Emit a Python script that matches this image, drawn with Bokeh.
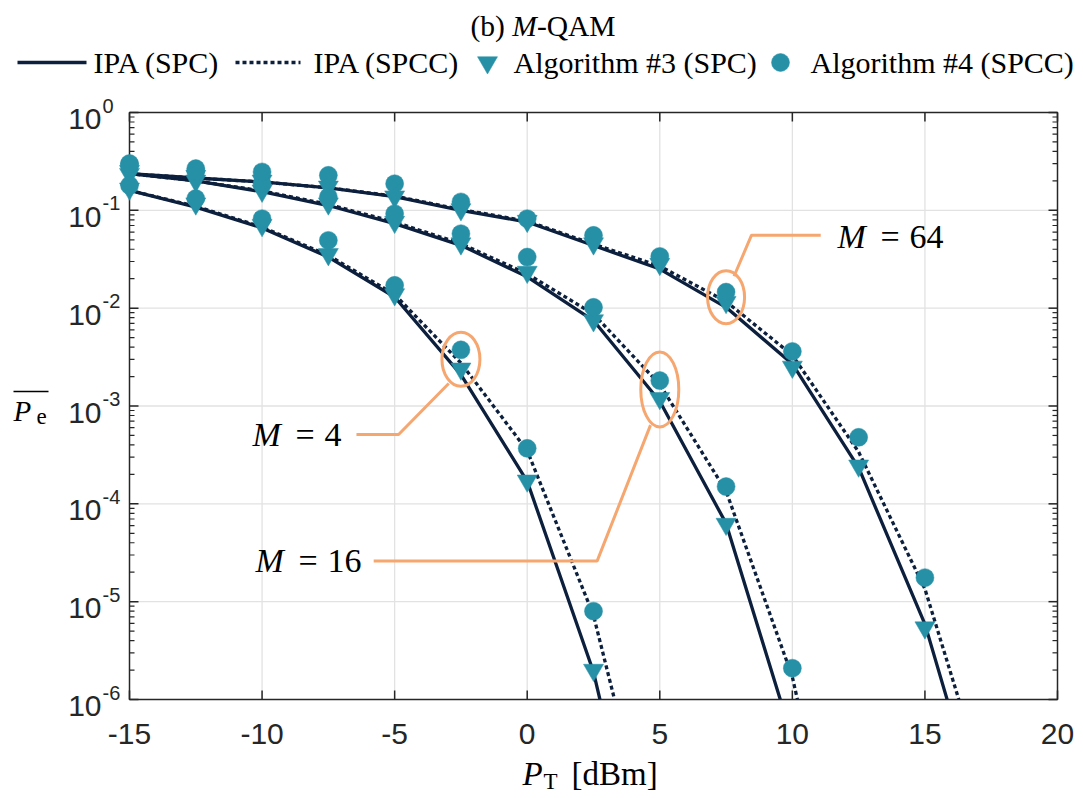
import math
from bokeh.plotting import figure
from bokeh.models import Range1d
from bokeh.core.properties import value
from bokeh.embed import file_html
from bokeh.resources import INLINE

# ---------------- data ----------------
PT_DBM = [-15, -12.5, -10, -7.5, -5, -2.5, 0, 2.5, 5, 7.5, 10, 12.5, 15, 17.5]

# M = 4
IPA_SPC_M4 = [1.60e-1, 1.08e-1, 6.61e-2, 3.33e-2, 1.30e-2, 2.09e-3, 1.70e-4, 1.91e-6, 2.51e-9]
IPA_SPCC_M4 = [1.60e-1, 1.10e-1, 6.76e-2, 3.47e-2, 1.38e-2, 2.75e-3, 3.50e-4, 7.24e-6, 1.41e-8]
ALG3_SPC_M4 = [1.66e-1, 1.17e-1, 7.03e-2, 3.55e-2, 1.38e-2, 2.40e-3, 1.72e-4, 2.00e-6]
ALG4_SPCC_M4 = [1.80e-1, 1.32e-1, 8.22e-2, 4.93e-2, 1.71e-2, 3.75e-3, 3.69e-4, 8.00e-6]

# M = 16
IPA_SPC_M16 = [2.37e-1, 2.00e-1, 1.55e-1, 1.12e-1, 7.31e-2, 4.39e-2, 2.09e-2, 7.48e-3, 1.12e-3, 6.31e-5, 3.98e-7]
IPA_SPCC_M16 = [2.37e-1, 2.00e-1, 1.58e-1, 1.15e-1, 7.59e-2, 4.57e-2, 2.24e-2, 8.71e-3, 1.66e-3, 1.35e-4, 1.70e-6, 1.58e-9]
ALG3_SPC_M16 = [2.34e-1, 2.00e-1, 1.58e-1, 1.17e-1, 7.59e-2, 4.57e-2, 2.34e-2, 7.48e-3, 1.20e-3, 6.21e-5]
ALG4_SPCC_M16 = [2.95e-1, 2.51e-1, 1.87e-1, 1.37e-1, 9.25e-2, 5.77e-2, 3.33e-2, 1.02e-2, 1.82e-3, 1.50e-4, 2.09e-6]

# M = 64
IPA_SPC_M64 = [2.37e-1, 2.14e-1, 1.95e-1, 1.70e-1, 1.38e-1, 1.00e-1, 7.59e-2, 4.37e-2, 2.51e-2, 1.02e-2, 2.69e-3, 2.34e-4, 5.89e-6, 2.95e-8]
IPA_SPCC_M64 = [2.37e-1, 2.14e-1, 1.95e-1, 1.70e-1, 1.40e-1, 1.02e-1, 7.76e-2, 4.52e-2, 2.69e-2, 1.17e-2, 3.31e-3, 3.39e-4, 1.35e-5, 8.30e-8]
ALG3_SPC_M64 = [2.51e-1, 2.24e-1, 2.00e-1, 1.74e-1, 1.38e-1, 1.02e-1, 7.76e-2, 4.57e-2, 2.82e-2, 1.15e-2, 2.51e-3, 2.45e-4, 5.43e-6]
ALG4_SPCC_M64 = [3.01e-1, 2.67e-1, 2.47e-1, 2.28e-1, 1.87e-1, 1.22e-1, 8.22e-2, 5.55e-2, 3.38e-2, 1.46e-2, 3.61e-3, 4.79e-4, 1.76e-5]

X_MIN, X_MAX = -15, 20
Y_MIN, Y_MAX = 1e-6, 1e0
X_TICKS = [-15, -10, -5, 0, 5, 10, 15, 20]
X_TICK_LABELS = ["-15", "-10", "-5", "0", "5", "10", "15", "20"]
Y_TICKS = [1e0, 1e-1, 1e-2, 1e-3, 1e-4, 1e-5, 1e-6]
Y_TICK_BASE = "10"
Y_TICK_EXPONENTS = ["0", "-1", "-2", "-3", "-4", "-5", "-6"]
Y_MINOR_MANTISSAS = [2, 3, 4, 5, 6, 7, 8, 9]

LEGEND_LABELS = ["IPA (SPC)", "IPA (SPCC)", "Algorithm #3 (SPC)", "Algorithm #4 (SPCC)"]
TITLE_PARTS = ["(b)", "M", "-QAM"]
XLABEL_PARTS = ["P", "T", "[dBm]"]
YLABEL_PARTS = ["P", "e"]

# annotation leader lines (data coordinates)
LEAD_M4_X = [-2.96, -4.85, -6.44]
LEAD_M4_Y = [1.70e-3, 5.11e-4, 5.11e-4]
LEAD_M16_X = [4.65, 2.64, -5.79]
LEAD_M16_Y = [6.37e-4, 2.61e-5, 2.61e-5]
LEAD_M64_X = [7.80, 8.46, 11.07]
LEAD_M64_Y = [2.12e-2, 5.57e-2, 5.57e-2]

# ---------------- style ----------------
NAVY = "#0C1F3D"
TEAL = "#2690A7"
ORANGE = "#F6A66F"
AXIS = "#262626"
GRID = "#E2E2E2"
SERIF = "Liberation Serif"
SANS = "Liberation Sans"
LW = 3.3
DASH = "4 3"

# ---------------- page geometry (plot box in page pixels) ----------------
W, H = 1075, 796
BOX_L, BOX_R, BOX_T, BOX_B = 129, 1057, 112, 699
PX_PER_DB = (BOX_R - BOX_L) / (X_MAX - X_MIN)
PX_PER_DEC = (BOX_B - BOX_T) / (math.log10(Y_MAX) - math.log10(Y_MIN))
X_AT_0 = X_MIN - BOX_L / PX_PER_DB
LOG_AT_0 = math.log10(Y_MAX) + BOX_T / PX_PER_DEC


def X(px):
    return X_AT_0 + px / PX_PER_DB


def Y(py):
    return 10 ** (LOG_AT_0 - py / PX_PER_DEC)


p = figure(width=W, height=H, min_border=0, x_range=Range1d(X(0), X(W)),
           y_range=Range1d(Y(H), Y(0)), y_axis_type="log",
           output_backend="svg", toolbar_location=None)
p.axis.visible = False
p.grid.visible = False
p.outline_line_color = None
p.background_fill_color = "white"
p.border_fill_color = "white"

# grid
gx = [t for t in X_TICKS if X_MIN < t < X_MAX]
gy = [t for t in Y_TICKS if Y_MIN < t < Y_MAX]
p.segment(x0=gx, y0=[Y_MIN] * len(gx), x1=gx, y1=[Y_MAX] * len(gx),
          line_color=GRID, line_width=1.3)
p.segment(x0=[X_MIN] * len(gy), y0=gy, x1=[X_MAX] * len(gy), y1=gy,
          line_color=GRID, line_width=1.3)

# curves
for vals in (IPA_SPC_M4, IPA_SPC_M16, IPA_SPC_M64):
    p.line(PT_DBM[:len(vals)], vals, line_color=NAVY, line_width=LW)
for vals in (IPA_SPCC_M4, IPA_SPCC_M16, IPA_SPCC_M64):
    p.line(PT_DBM[:len(vals)], vals, line_color=NAVY, line_width=LW, line_dash=DASH)

# clip the curves at the plot box (white masks outside it)
p.quad(left=[X(0)], right=[X(W)], bottom=[Y(H)], top=[Y_MIN], fill_color="white",
       line_color=None)
p.quad(left=[X(0)], right=[X_MIN], bottom=[Y(H)], top=[Y(0)], fill_color="white",
       line_color=None)

# box and ticks
p.quad(left=[X_MIN], right=[X_MAX], bottom=[Y_MIN], top=[Y_MAX], fill_color=None,
       line_color=AXIS, line_width=1.5)
nx = len(X_TICKS)
p.ray(x=X_TICKS, y=[Y_MIN] * nx, length=9, length_units="screen", angle=math.pi / 2,
      line_color=AXIS, line_width=1.5)
p.ray(x=X_TICKS, y=[Y_MAX] * nx, length=9, length_units="screen", angle=-math.pi / 2,
      line_color=AXIS, line_width=1.5)
ny = len(Y_TICKS)
p.ray(x=[X_MIN] * ny, y=Y_TICKS, length=9, length_units="screen", angle=0,
      line_color=AXIS, line_width=1.5)
p.ray(x=[X_MAX] * ny, y=Y_TICKS, length=9, length_units="screen", angle=math.pi,
      line_color=AXIS, line_width=1.5)
minor = [m * t for t in Y_TICKS[1:] for m in Y_MINOR_MANTISSAS]
p.ray(x=[X_MIN] * len(minor), y=minor, length=5, length_units="screen", angle=0,
      line_color=AXIS, line_width=1.2)
p.ray(x=[X_MAX] * len(minor), y=minor, length=5, length_units="screen", angle=math.pi,
      line_color=AXIS, line_width=1.2)

# tick labels
p.text(x=X_TICKS, y=[Y_MIN] * nx, text=X_TICK_LABELS, y_offset=34.5, text_align="center",
       text_baseline="middle", text_font=value(SANS), text_font_size=value("30px"),
       text_color=AXIS)
p.text(x=[X_MIN] * ny, y=Y_TICKS, text=[Y_TICK_BASE] * ny, x_offset=-28, y_offset=6.5,
       text_align="right", text_baseline="middle", text_font=value(SANS),
       text_font_size=value("30px"), text_color=AXIS)
p.text(x=[X_MIN] * ny, y=Y_TICKS, text=Y_TICK_EXPONENTS, x_offset=-27, y_offset=-7,
       text_align="left", text_baseline="middle", text_font=value(SANS),
       text_font_size=value("20px"), text_color=AXIS)

# markers
for vals in (ALG3_SPC_M4, ALG3_SPC_M16, ALG3_SPC_M64):
    p.scatter(PT_DBM[:len(vals)], vals, marker="inverted_triangle", size=20,
              fill_color=TEAL, line_color=TEAL, line_width=0.5)
for vals in (ALG4_SPCC_M4, ALG4_SPCC_M16, ALG4_SPCC_M64):
    p.scatter(PT_DBM[:len(vals)], vals, marker="circle", size=18,
              fill_color=TEAL, line_color=TEAL, line_width=0.5)

# orange call-outs: ellipses around the marker pairs, leader lines
ell = [
    (5, ALG3_SPC_M4, ALG4_SPCC_M4, 38, 54),
    (8, ALG3_SPC_M16, ALG4_SPCC_M16, 38, 75),
    (9, ALG3_SPC_M64, ALG4_SPCC_M64, 37, 53),
]
for idx, a3, a4, w, h in ell:
    yc = math.sqrt(a3[idx] * a4[idx])
    p.ellipse(x=[PT_DBM[idx]], y=[yc], width=w, height=h, width_units="screen",
              height_units="screen", fill_color=None, line_color=ORANGE, line_width=3)
for lx, ly in ((LEAD_M4_X, LEAD_M4_Y), (LEAD_M16_X, LEAD_M16_Y), (LEAD_M64_X, LEAD_M64_Y)):
    p.line(lx, ly, line_color=ORANGE, line_width=3)


def txt(px, py, s, size, style="normal", font=SERIF, align="left"):
    """Text placed in page pixels; py is the vertical centre of the text."""
    p.text(x=[X(px)], y=[Y(py)], text=[s], text_font=value(font),
           text_font_size=value(f"{size}px"), text_font_style=style, text_align=align,
           text_baseline="middle", text_color="black")


for mx, cy, num in ((837, 236, "64"), (252, 434, "4"), (255, 560, "16")):
    txt(mx, cy, "M", 34, style="italic")
    txt(mx + 43, cy, "=", 34)
    txt(mx + 72, cy, num, 34)

# title
txt(470, 25, TITLE_PARTS[0], 29.5)
txt(511.8, 25, TITLE_PARTS[1], 29.5, style="italic")
txt(536.4, 25, TITLE_PARTS[2], 29.5)

# legend
LEG_Y = 62
p.line([X(17), X(86)], [Y(LEG_Y)] * 2, line_color=NAVY, line_width=LW)
p.line([X(235), X(300)], [Y(LEG_Y)] * 2, line_color=NAVY, line_width=LW, line_dash=DASH)
p.scatter([X(487)], [Y(LEG_Y)], marker="inverted_triangle", size=20, fill_color=TEAL,
          line_color=TEAL, line_width=0.5)
p.scatter([X(780)], [Y(LEG_Y)], marker="circle", size=18, fill_color=TEAL, line_color=TEAL,
          line_width=0.5)
for lx, s in zip([93, 313, 513, 810], LEGEND_LABELS):
    txt(lx, LEG_Y, s, 30)

# y label: overlined P_e
txt(13, 410, YLABEL_PARTS[0], 29, style="italic")
txt(36, 416, YLABEL_PARTS[1], 23)
p.line([X(13), X(48)], [Y(391), Y(391)], line_color="black", line_width=1.6)

# x label: P_T [dBm]
txt(522, 773, XLABEL_PARTS[0], 33, style="italic")
txt(543, 781, XLABEL_PARTS[1], 23)
txt(571, 773, XLABEL_PARTS[2], 33)

open("out.html", "w").write(file_html(p, INLINE))
